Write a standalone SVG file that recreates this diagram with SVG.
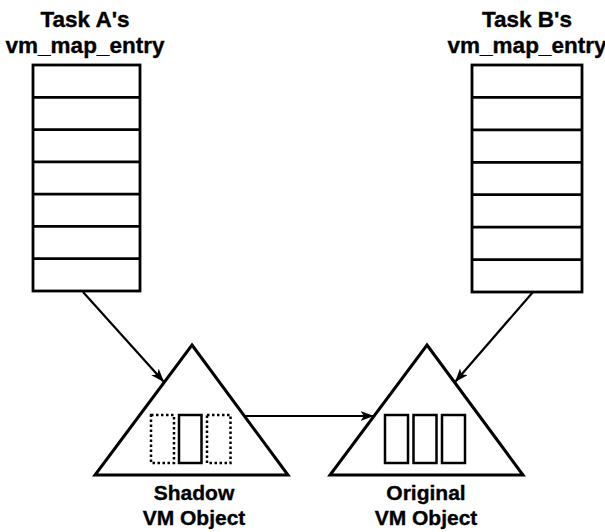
<svg xmlns="http://www.w3.org/2000/svg" width="605" height="532" viewBox="0 0 605 532">
  <defs>
    <marker id="arrow" markerUnits="userSpaceOnUse" markerWidth="15" markerHeight="11" refX="13.5" refY="5" orient="auto">
      <path d="M0,0 L13.5,5 L0,10 L3.5,5 Z" fill="#000"/>
    </marker>
  </defs>
  <style>
    .title { font-family: "Liberation Sans", Arial, sans-serif; font-weight: bold; font-size: 22.5px; fill: #000; stroke: #000; stroke-width: 0.35; text-anchor: middle; }
    .label { font-family: "Liberation Sans", Arial, sans-serif; font-weight: bold; font-size: 21px; fill: #000; stroke: #000; stroke-width: 0.35; text-anchor: middle; }
    .box { fill: #fff; stroke: #000; stroke-width: 2.8; }
    .row { stroke: #000; stroke-width: 2.8; }
    .tri { fill: #fff; stroke: #000; stroke-width: 3; stroke-linejoin: miter; }
    .page { fill: none; stroke: #000; stroke-width: 2.5; }
    .page-dot { fill: none; stroke: #000; stroke-width: 2.5; stroke-dasharray: 2.5 2.5; }
    .conn { fill: none; stroke: #000; stroke-width: 2.2; marker-end: url(#arrow); }
  </style>
  <rect width="605" height="532" fill="#fff"/>

  <!-- Task A's map entries -->
  <g id="task-a-map">
    <text class="title" x="85" y="27">Task A's</text>
    <text class="title" x="85" y="53">vm_map_entry</text>
    <rect class="box" x="33" y="65" width="107" height="226"/>
    <line class="row" x1="33" y1="97.3" x2="140" y2="97.3"/>
    <line class="row" x1="33" y1="129.6" x2="140" y2="129.6"/>
    <line class="row" x1="33" y1="161.9" x2="140" y2="161.9"/>
    <line class="row" x1="33" y1="194.1" x2="140" y2="194.1"/>
    <line class="row" x1="33" y1="226.4" x2="140" y2="226.4"/>
    <line class="row" x1="33" y1="258.7" x2="140" y2="258.7"/>
  </g>

  <!-- Task B's map entries -->
  <g id="task-b-map">
    <text class="title" x="527" y="27">Task B's</text>
    <text class="title" x="527" y="53">vm_map_entry</text>
    <rect class="box" x="472" y="65" width="110" height="227"/>
    <line class="row" x1="472" y1="97.4" x2="582" y2="97.4"/>
    <line class="row" x1="472" y1="129.9" x2="582" y2="129.9"/>
    <line class="row" x1="472" y1="162.3" x2="582" y2="162.3"/>
    <line class="row" x1="472" y1="194.7" x2="582" y2="194.7"/>
    <line class="row" x1="472" y1="227.1" x2="582" y2="227.1"/>
    <line class="row" x1="472" y1="259.6" x2="582" y2="259.6"/>
  </g>

  <!-- Shadow object: one resident page, two pages still in the original -->
  <g id="shadow-object">
    <polygon class="tri" points="192,345 288,475 95,475"/>
    <rect class="page-dot" x="151" y="415" width="23" height="48"/>
    <rect class="page" x="179" y="415" width="22.5" height="48"/>
    <rect class="page-dot" x="207" y="415" width="23.5" height="48"/>
    <text class="label" x="194" y="500">Shadow</text>
    <text class="label" x="194" y="525">VM Object</text>
  </g>

  <!-- Original object holding all three pages -->
  <g id="original-object">
    <polygon class="tri" points="427,345 523,475 330,475"/>
    <rect class="page" x="385" y="415" width="23" height="48"/>
    <rect class="page" x="413.5" y="415" width="23" height="48"/>
    <rect class="page" x="442" y="415" width="23" height="48"/>
    <text class="label" x="426" y="500">Original</text>
    <text class="label" x="426" y="525">VM Object</text>
  </g>

  <g id="connectors">
    <line class="conn" x1="83" y1="292" x2="164" y2="382"/>
    <line class="conn" x1="533" y1="292" x2="455" y2="382"/>
    <line class="conn" x1="243" y1="416" x2="374" y2="416"/>
  </g>
</svg>
